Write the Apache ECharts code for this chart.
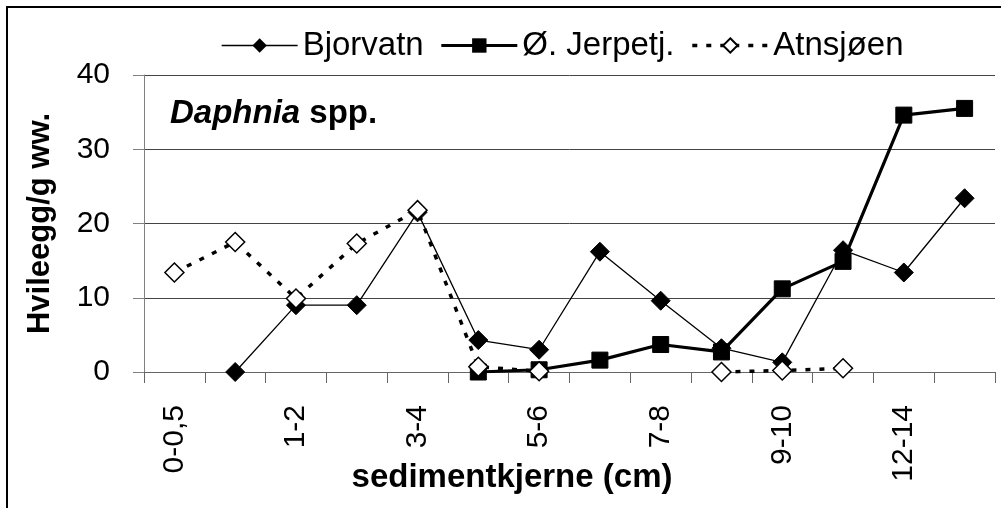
<!DOCTYPE html>
<html>
<head>
<meta charset="utf-8">
<script src="https://cdn.jsdelivr.net/npm/echarts@6/dist/echarts.min.js"></script>
<style>
html,body{margin:0;padding:0;background:#fff;}
#chart{width:1001px;height:508px;}
</style>
</head>
<body>
<div id="chart"></div>
<script>
const categories = ['0-0,5','0,5-1','1-2','2-3','3-4','4-5','5-6','6-7','7-8','8-9','9-10','10-12','12-14','14-16'];
const bjorvatn  = [null, 0, 9.0, 9.0, 21.5, 4.3, 3.0, 16.2, 9.6, 3.2, 1.3, 16.4, 13.4, 23.4];
const jerpetj   = [null, null, null, null, null, 0, 0.3, 1.6, 3.7, 2.7, 11.2, 14.9, 34.6, 35.5];
const atnsjoen  = [13.4, 17.5, 9.9, 17.3, 21.8, 0.7, 0.1, null, null, 0, 0.2, 0.5, null, null];
const seriesNames = ['Bjorvatn', 'Ø. Jerpetj.', 'Atnsjøen'];
const yTicks = [0, 10, 20, 30, 40];

const FONT = '"Liberation Sans", Arial, sans-serif';
const chart = echarts.init(document.getElementById('chart'), null, {renderer: 'canvas'});
chart.setOption({
  animation: false,
  backgroundColor: '#fff',
  grid: {left: 144, right: 6, top: 75, bottom: 136, containLabel: false},
  legend: {
    left: 216, top: 24,
    itemWidth: 76, itemHeight: 18, itemGap: 16,
    textStyle: {fontFamily: FONT, fontSize: 33, color: '#000'},
    data: [
      {name: seriesNames[0], lineStyle: {width: 1.3}},
      {name: seriesNames[1], lineStyle: {width: 3.2}},
      {name: seriesNames[2], lineStyle: {width: 3.5, type: [5, 9]}}
    ]
  },
  xAxis: {
    type: 'category',
    data: categories,
    boundaryGap: true,
    axisLine: {lineStyle: {color: '#666', width: 1}},
    axisTick: {show: true, interval: 0, length: 11, inside: false, lineStyle: {color: '#666'}},
    axisLabel: {interval: 1, rotate: 90, margin: 33, fontFamily: FONT, fontSize: 30, color: '#000'}
  },
  yAxis: {
    type: 'value',
    min: yTicks[0], max: yTicks[yTicks.length - 1], interval: 10,
    name: 'Hvileegg/g ww.',
    nameLocation: 'middle',
    nameRotate: 90,
    nameGap: 88,
    nameTextStyle: {fontFamily: FONT, fontSize: 31, fontWeight: 'bold', color: '#000'},
    axisLine: {show: true, lineStyle: {color: '#808080', width: 1}},
    axisTick: {show: true, length: 11, inside: false, lineStyle: {color: '#808080'}},
    axisLabel: {margin: 34, fontFamily: FONT, fontSize: 30, color: '#000'},
    splitLine: {show: true, lineStyle: {color: '#444', width: 1}}
  },
  graphic: [
    {type: 'rect', shape: {x: 7, y: 7, width: 1200, height: 700}, style: {fill: 'none', stroke: '#000', lineWidth: 2}, silent: true},
    {type: 'text', left: 170, top: 97, style: {
      text: '{i|Daphnia}{b| spp.}',
      rich: {
        i: {fontFamily: FONT, fontSize: 33, fontWeight: 'bold', fontStyle: 'italic', fill: '#000'},
        b: {fontFamily: FONT, fontSize: 33, fontWeight: 'bold', fill: '#000'}
      }
    }},
    {type: 'text', x: 512, y: 478, style: {
      text: 'sedimentkjerne (cm)', fontFamily: FONT, fontSize: 33, fontWeight: 'bold', fill: '#000',
      align: 'center', verticalAlign: 'middle'
    }}
  ],
  series: [
    {
      name: seriesNames[0], type: 'line', data: bjorvatn, connectNulls: false,
      symbol: 'diamond', symbolSize: [19, 19], showSymbol: true,
      itemStyle: {color: '#000', borderColor: '#000'},
      lineStyle: {color: '#000', width: 1.3},
      z: 2
    },
    {
      name: seriesNames[1], type: 'line', data: jerpetj, connectNulls: false,
      symbol: 'rect', symbolSize: [16, 16], showSymbol: true,
      itemStyle: {color: '#000', borderColor: '#000'},
      lineStyle: {color: '#000', width: 3.2},
      z: 3
    },
    {
      name: seriesNames[2], type: 'line', data: atnsjoen, connectNulls: false,
      symbol: 'diamond', symbolSize: [19, 19], showSymbol: true,
      itemStyle: {color: '#fff', borderColor: '#000', borderWidth: 1.5},
      lineStyle: {color: '#000', width: 3.5, type: [5, 9]},
      z: 4
    }
  ]
});
</script>
</body>
</html>
